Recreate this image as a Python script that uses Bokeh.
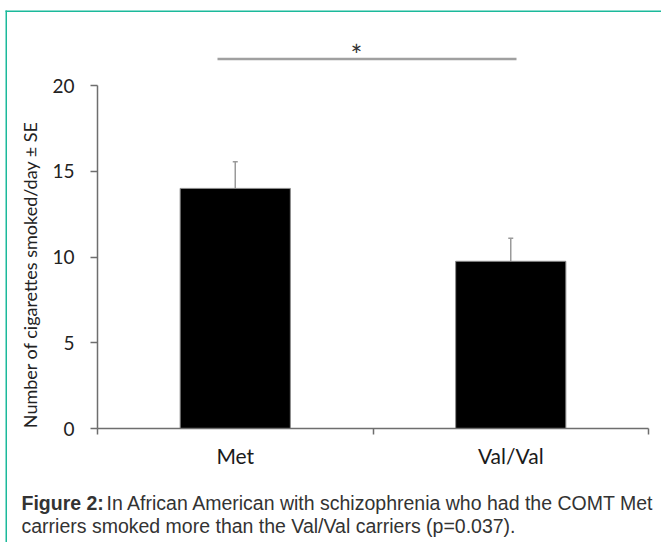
from math import pi
from bokeh.plotting import figure
from bokeh.models import (Range1d, FixedTicker, LinearAxis, Whisker, TeeHead,
                          Label, BoxAnnotation, ColumnDataSource)
from bokeh.embed import file_html
from bokeh.resources import INLINE

# ---- data ----
categories = ["Met", "Val/Val"]
means = [14.0, 9.75]
se = [1.55, 1.35]
y_ticks = [0, 5, 10, 15, 20]
y_label = "Number of cigarettes smoked/day \u00b1 SE"
sig_text = "*"
caption_bold = "Figure 2:"
caption_line1 = "In African American with schizophrenia who had the COMT Met"
caption_line2 = "carriers smoked more than the Val/Val carriers (p=0.037)."

# ---- derived ----
x_pos = [i + 0.5 for i in range(len(categories))]
boundaries = list(range(len(categories) + 1))
upper = [m + s for m, s in zip(means, se)]
y_max = y_ticks[-1]

# ---- layout (pixels on the canvas) ----
W, H = 661, 542
AX_LEFT, AX_RIGHT = 97.0, 648.0      # x = 0 and x = n_categories
AX_BOTTOM, AX_TOP = 428.0, 85.0      # y = 0 and y = y_max
kx = (AX_RIGHT - AX_LEFT) / len(categories)
ky = (AX_BOTTOM - AX_TOP) / y_max
x0 = -AX_LEFT / kx
x1 = x0 + W / kx
y1 = y_max + AX_TOP / ky
y0 = y1 - H / ky


def dx(px):
    return x0 + px / kx


def dy(py):
    return y1 - py / ky


AXIS = "#6e6e6e"
p = figure(width=W, height=H, output_backend="svg", toolbar_location=None,
           x_range=Range1d(x0, x1), y_range=Range1d(y0, y1),
           min_border=0, x_axis_type=None, y_axis_type=None)
p.outline_line_color = None
p.background_fill_color = "white"
p.border_fill_color = "white"

# y axis
yaxis = LinearAxis(ticker=FixedTicker(ticks=y_ticks), bounds=(0, y_max),
                   fixed_location=0)
yaxis.axis_line_color = AXIS
yaxis.axis_line_width = 1.5
yaxis.major_tick_out = 7
yaxis.major_tick_in = 0
yaxis.major_tick_line_color = AXIS
yaxis.major_tick_line_width = 1.5
yaxis.minor_tick_line_color = None
yaxis.major_label_text_font = "Lato"
yaxis.major_label_text_font_size = "19px"
yaxis.major_label_text_color = "#222222"
yaxis.major_label_standoff = 16
p.add_layout(yaxis, "left")

# x axis: labels at category centres, tick marks at category boundaries
xaxis = LinearAxis(ticker=FixedTicker(ticks=x_pos, minor_ticks=boundaries),
                   bounds=(0, len(categories)), fixed_location=0)
xaxis.major_label_overrides = {x: c for x, c in zip(x_pos, categories)}
xaxis.axis_line_color = AXIS
xaxis.axis_line_width = 1.5
xaxis.major_tick_out = 0
xaxis.major_tick_in = 0
xaxis.major_tick_line_color = None
xaxis.minor_tick_out = 6
xaxis.minor_tick_in = 0
xaxis.minor_tick_line_color = AXIS
xaxis.minor_tick_line_width = 1.5
xaxis.major_label_text_font = "Lato"
xaxis.major_label_text_font_size = "21px"
xaxis.major_label_text_color = "#1a1a1a"
xaxis.major_label_standoff = 8
p.add_layout(xaxis, "below")

# bars
p.vbar(x=x_pos, top=means, bottom=0, width=0.4, fill_color="black",
       line_color="#8c8c8c", line_width=1)

# error bars (upper only)
src = ColumnDataSource(dict(x=x_pos, lower=means, upper=upper))
p.add_layout(Whisker(base="x", lower="lower", upper="upper", source=src,
                     dimension="height", line_color="#9a9a9a", line_width=1.5,
                     lower_head=None,
                     upper_head=TeeHead(size=5, line_color="#9a9a9a", line_width=1.5)))

# significance bracket
p.segment(x0=[dx(217)], y0=[dy(58.5)], x1=[dx(516)], y1=[dy(58.5)],
          line_color="#a0a0a0", line_width=2.5)
p.add_layout(Label(x=dx(356), y=dy(54), text=sig_text, text_align="center",
                   text_baseline="middle", text_font="Lato",
                   text_font_size="28px", text_color="#333333"))

# y axis title
p.add_layout(Label(x=dx(29), y=dy(274), text=y_label, angle=pi / 2,
                   text_align="center", text_baseline="middle",
                   text_font="Lato", text_font_size="18px",
                   text_color="#222222"))

# caption
cap_font = "Liberation Sans"
cap_size = "19.5px"
p.add_layout(Label(x=dx(21), y=dy(502), text=caption_bold, text_font=cap_font,
                   text_font_style="bold", text_font_size=cap_size,
                   text_color="#333333", text_baseline="alphabetic"))
p.add_layout(Label(x=dx(106), y=dy(502), text=caption_line1, text_font=cap_font,
                   text_font_size=cap_size, text_color="#333333",
                   text_baseline="alphabetic"))
p.add_layout(Label(x=dx(21), y=dy(525), text=caption_line2, text_font=cap_font,
                   text_font_size=cap_size, text_color="#333333",
                   text_baseline="alphabetic"))

# teal frame lines (top and left)
TEAL = "#1bb99b"
p.add_layout(BoxAnnotation(left=dx(5), right=dx(W), top=dy(10), bottom=dy(11.5),
                           fill_color=TEAL, fill_alpha=1, line_color=None))
p.add_layout(BoxAnnotation(left=dx(5), right=dx(6.5), top=dy(10), bottom=dy(H),
                           fill_color=TEAL, fill_alpha=1, line_color=None))

open("out.html", "w").write(file_html(p, INLINE))
